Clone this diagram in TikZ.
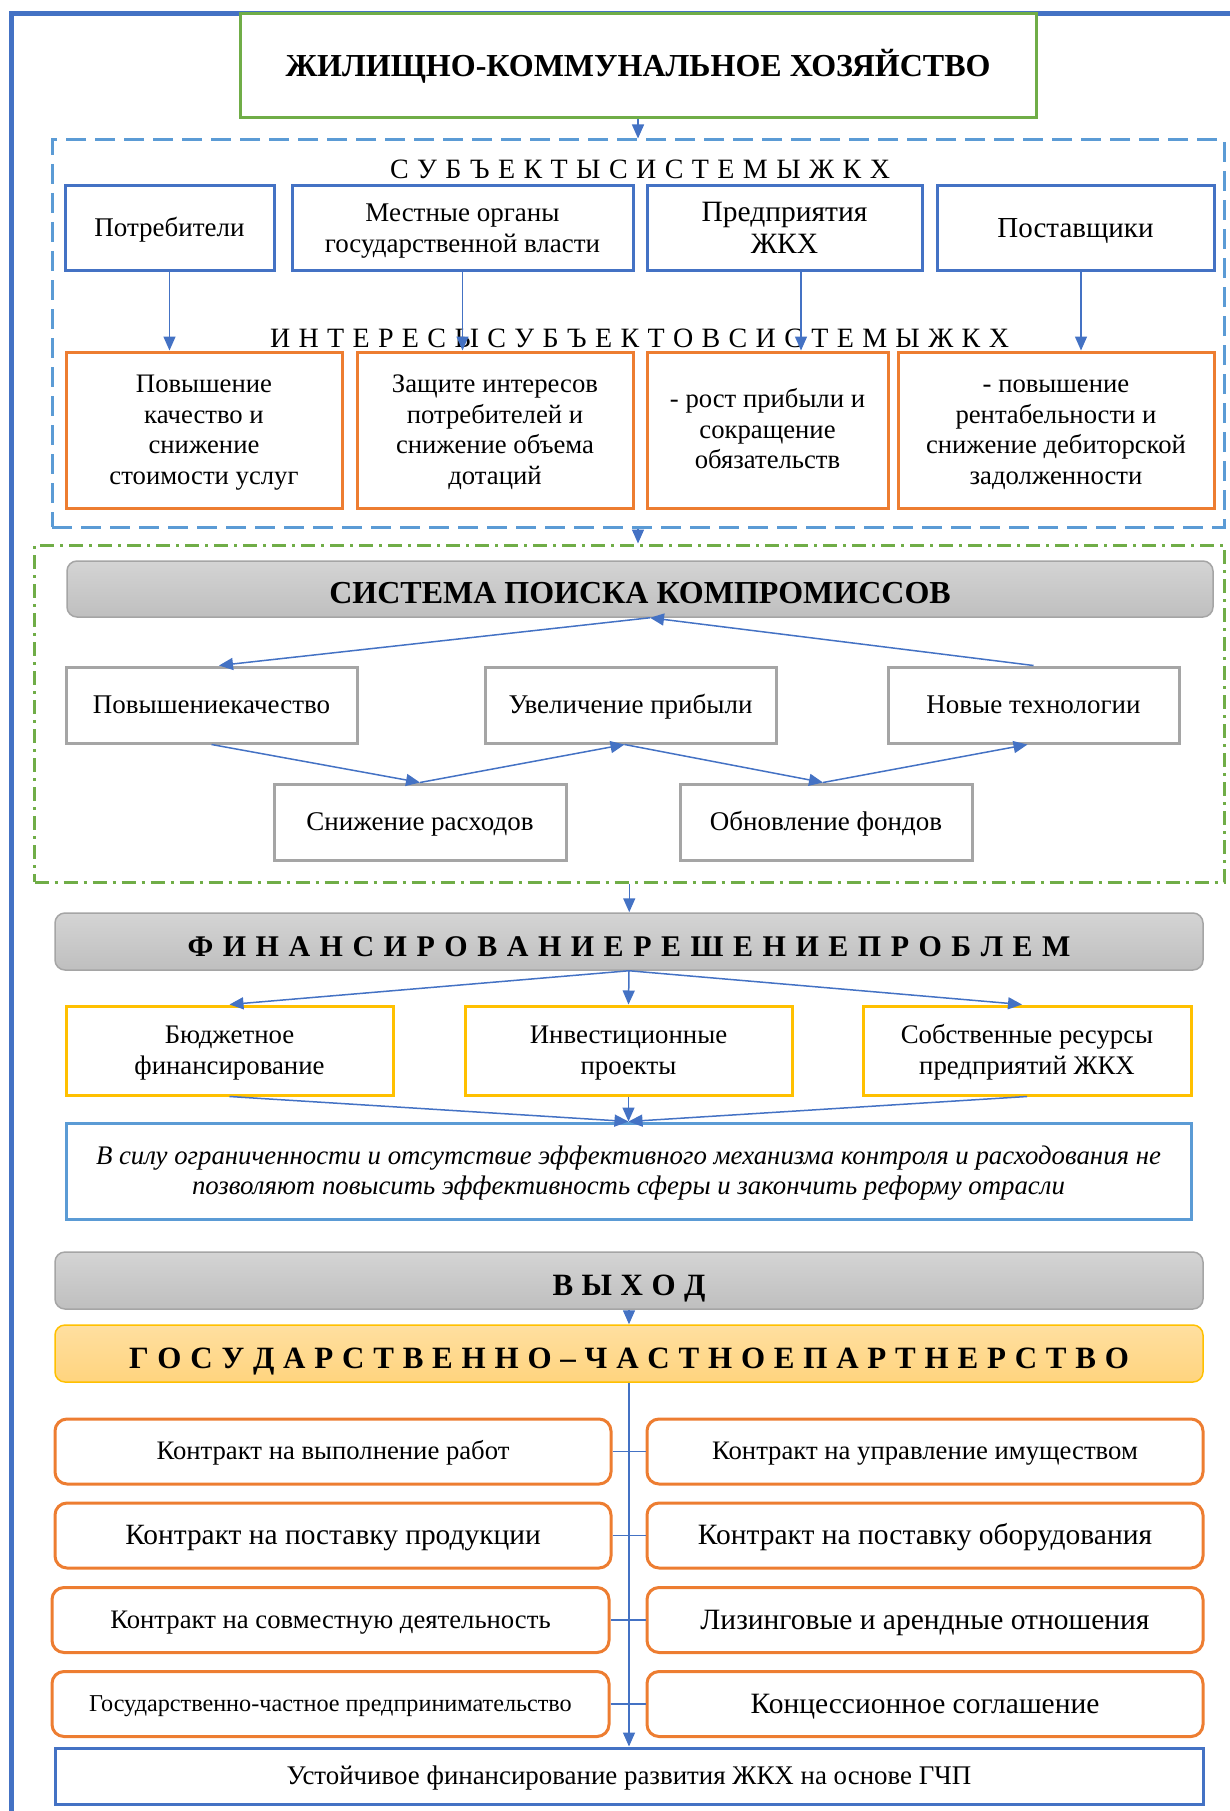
\documentclass[tikz,border=0pt]{standalone}
\usepackage{fontspec}
\setmainfont{Liberation Serif}
\usetikzlibrary{arrows.meta}
\definecolor{frameblue}{HTML}{4472C4}
\definecolor{lblue}{HTML}{5B9BD5}
\definecolor{ggreen}{HTML}{70AD47}
\definecolor{orng}{HTML}{ED7D31}
\definecolor{yel}{HTML}{FFC000}
\definecolor{gborder}{HTML}{A5A5A5}
\definecolor{gtop}{HTML}{D4D4D4}
\definecolor{gbot}{HTML}{BFBFBF}
\definecolor{otop}{HTML}{FFDFA0}
\definecolor{obot}{HTML}{FFD47E}
\lineskiplimit=-1000pt
\newcommand\fs[2]{\fontsize{#1}{#2}\selectfont}
\newcommand\spread[2]{\makebox[#1pt][s]{#2}}
\newcommand\ls{\rule[-0.258em]{0pt}{1.149em}}
\begin{document}
\begin{tikzpicture}[x=1pt,y=-1pt,
  box/.style={draw, line width=3pt, inner sep=0pt, align=center, font={\fs{26.7}{30.5}}},
  bluebox/.style={box, draw=frameblue},
  orbox/.style={box, draw=orng},
  yelbox/.style={box, draw=yel},
  graybox/.style={box, draw=gborder},
  headbox/.style={draw=gborder, line width=1.5pt, rounded corners=10pt, top color=gtop, bottom color=gbot, inner sep=0pt, minimum width=1148pt, minimum height=57pt, text height=29pt, text depth=0pt},
  contract/.style={box, draw=orng, rounded corners=12pt, minimum width=556pt, minimum height=65pt},
  arr/.style={-{Triangle[length=14pt,width=12pt]}, draw=frameblue, line width=1.5pt},
  conn/.style={draw=frameblue, line width=1.5pt}
]
\useasboundingbox (0,0) rectangle (1229,1811);
% outer frame
\draw[frameblue, line width=5pt] (11,1830) -- (11,14) -- (1240,14);

% title
\node[draw=ggreen, line width=3pt, fill=white, minimum width=796pt, minimum height=104pt, inner sep=0pt, font={\bfseries\fs{32}{36}}] (title) at (638,66) {ЖИЛИЩНО-КОММУНАЛЬНОЕ ХОЗЯЙСТВО};

% container 1
\node[draw=lblue, line width=3pt, dash pattern=on 20pt off 9pt, minimum width=1172pt, minimum height=387pt, inner sep=0pt] (c1) at (638,333.5) {};
\node[font={\fs{28}{32}}, inner sep=0pt] (lab1) at (640,169) {\spread{500}{С У Б Ъ Е К Т Ы С И С Т Е М Ы Ж К Х}};

\node[bluebox, minimum width=209pt, minimum height=84pt, font={\fs{27}{31}}] (s1) at (169.5,228) {\ls Потребители\ls};
\node[bluebox, minimum width=341pt, minimum height=84pt, font={\fs{27}{31}}] (s2) at (462.5,228) {\ls Местные органы\\государственной власти\ls};
\node[bluebox, minimum width=275pt, minimum height=84pt, font={\fs{29.5}{32.5}}] (s3) at (784.5,228) {\ls Предприятия\\ЖКХ\ls};
\node[bluebox, minimum width=277pt, minimum height=84pt, font={\fs{29}{33}}] (s4) at (1075.5,228) {\ls Поставщики\ls};

\node[font={\fs{28}{32}}, inner sep=0pt] (lab2) at (639.5,338) {\spread{739}{И Н Т Е Р Е С Ы С У Б Ъ Е К Т О В С И С Т Е М Ы Ж К Х}};

\node[orbox, minimum width=276pt, minimum height=156pt] (i1) at (204,430) {\ls Повышение\\качество и\\снижение\\стоимости услуг\ls};
\node[orbox, minimum width=276pt, minimum height=156pt] (i2) at (495,430) {\ls Защите интересов\\потребителей и\\снижение объема\\дотаций\ls};
\node[orbox, minimum width=241pt, minimum height=156pt] (i3) at (767.5,430) {\ls - рост прибыли и\\сокращение\\обязательств\ls};
\node[orbox, minimum width=316pt, minimum height=156pt] (i4) at (1056,430) {\ls - повышение\\рентабельности и\\снижение дебиторской\\задолженности\ls};

\draw[arr] (title.south) -- (title.south |- c1.north);
\draw[arr] (s1.south) -- (s1.south |- i1.north);
\draw[arr] (s2.south) -- (s2.south |- i2.north);
\draw[arr] ([xshift=16.5pt]s3.south) -- ([xshift=16.5pt]s3.south |- i3.north);
\draw[arr] ([xshift=5.5pt]s4.south) -- ([xshift=5.5pt]s4.south |- i4.north);

% container 2
\node[draw=ggreen, line width=3pt, dash pattern=on 14pt off 6pt on 3pt off 6pt, minimum width=1189.5pt, minimum height=337pt, inner sep=0pt] (c2) at (629.25,713.5) {};
\draw[arr] (c1.south) -- (c1.south |- c2.north);

\node[headbox, minimum width=1146pt, minimum height=56pt, font={\bfseries\fs{32}{36}}] (sys) at (640,589) {СИСТЕМА ПОИСКА КОМПРОМИССОВ};

\node[graybox, minimum width=291pt, minimum height=76pt, font={\fs{27}{31}}] (p1) at (211.5,705) {\ls Повышениекачество\ls};
\node[graybox, minimum width=291pt, minimum height=76pt, font={\fs{27}{31}}] (p2) at (630.5,705) {\ls Увеличение прибыли\ls};
\node[graybox, minimum width=291pt, minimum height=76pt, font={\fs{27}{31}}] (p3) at (1033.5,705) {\ls Новые технологии\ls};
\node[graybox, minimum width=292pt, minimum height=76pt, font={\fs{27}{31}}] (q1) at (420,822) {\ls Снижение расходов\ls};
\node[graybox, minimum width=292pt, minimum height=76pt, font={\fs{27}{31}}] (q2) at (826,822) {\ls Обновление фондов\ls};

\coordinate (apex) at ([xshift=10pt]sys.south);
\draw[arr] (p3.north) -- (apex);
\draw[arr] (apex) -- ([xshift=7.5pt]p1.north);
\draw[arr] (p1.south) -- (q1.north);
\draw[arr] (q1.north) -- ([xshift=-6pt]p2.south);
\draw[arr] ([xshift=-6pt]p2.south) -- ([xshift=-3pt]q2.north);
\draw[arr] ([xshift=-3pt]q2.north) -- ([xshift=-6pt]p3.south);

% financing
\node[headbox, font={\bfseries\fs{30}{34}}] (fin) at (629,941.5) {\spread{883}{Ф И Н А Н С И Р О В А Н И Е Р Е Ш Е Н И Е П Р О Б Л Е М}};
\draw[arr] (c2.south) -- (c2.south |- fin.north);

\node[yelbox, minimum width=327pt, minimum height=89pt, font={\fs{26.8}{31}}] (y1) at (229.5,1050.5) {\ls Бюджетное\\финансирование\ls};
\node[yelbox, minimum width=327pt, minimum height=89pt, font={\fs{26.8}{31}}] (y2) at (628.5,1050.5) {\ls Инвестиционные\\проекты\ls};
\node[yelbox, minimum width=328pt, minimum height=89pt, font={\fs{26.8}{31}}] (y3) at (1027,1050.5) {\ls Собственные ресурсы\\предприятий ЖКХ\ls};

\draw[arr] (fin.south) -- (y1.north);
\draw[arr] (fin.south) -- (y2.north);
\draw[arr] (fin.south) -- ([xshift=-5pt]y3.north);

\node[box, draw=lblue, minimum width=1125pt, minimum height=96pt, font={\itshape\fs{26.8}{30.5}}] (ital) at (628.5,1171) {\ls В силу ограниченности и отсутствие эффективного механизма контроля и расходования не\\позволяют повысить эффективность сферы и закончить реформу отрасли\ls};

\draw[arr] (y1.south) -- (ital.north);
\draw[arr] (y2.south) -- (ital.north);
\draw[arr] (y3.south) -- (ital.north);

% exit
\node[headbox, font={\bfseries\fs{31}{35}}] (vyh) at (629,1280.5) {\spread{153}{В Ы Х О Д}};
\node[headbox, draw=yel, top color=otop, bottom color=obot, font={\bfseries\fs{31}{35}}] (gchp) at (629,1353.5) {\spread{1000}{Г О С У Д А Р С Т В Е Н Н О – Ч А С Т Н О Е П А Р Т Н Е Р С Т В О}};
\draw[arr] (vyh.south) -- (gchp.north);

% contracts
\node[contract, font={\fs{26.7}{30}}] (l1) at (333,1451.5) {\ls Контракт на выполнение работ\ls};
\node[contract, font={\fs{26.7}{30}}] (r1) at (925,1451.5) {\ls Контракт на управление имуществом\ls};
\node[contract, font={\fs{29.4}{33}}] (l2) at (333,1535.5) {\ls Контракт на поставку продукции\ls};
\node[contract, font={\fs{29.5}{33}}] (r2) at (925,1535.5) {\ls Контракт на поставку оборудования\ls};
\node[contract, minimum width=557pt, font={\fs{26.7}{30}}] (l3) at (330.5,1620) {\ls Контракт на совместную деятельность\ls};
\node[contract, font={\fs{29.5}{33}}] (r3) at (925,1620) {\ls Лизинговые и арендные отношения\ls};
\node[contract, minimum width=557pt, font={\fs{24.2}{28}}] (l4) at (330.5,1704) {\ls Государственно-частное предпринимательство\ls};
\node[contract, font={\fs{29.5}{33}}] (r4) at (925,1704) {\ls Концессионное соглашение\ls};

\node[bluebox, minimum width=1148pt, minimum height=56pt, font={\fs{26.9}{30}}] (final) at (629,1776) {\ls Устойчивое финансирование развития ЖКХ на основе ГЧП\ls};

\draw[arr] (gchp.south) -- (gchp.south |- final.north);
\draw[conn] (l1.east) -- (r1.west);
\draw[conn] (l2.east) -- (r2.west);
\draw[conn] (l3.east) -- (r3.west);
\draw[conn] (l4.east) -- (r4.west);
\end{tikzpicture}
\end{document}
